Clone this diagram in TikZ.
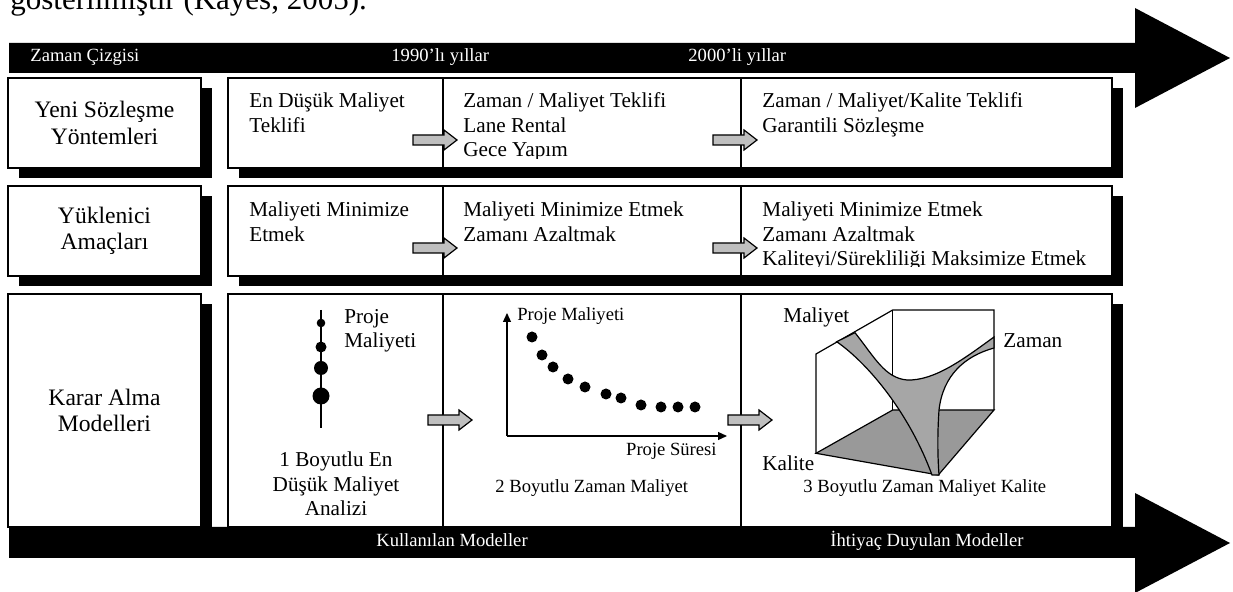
\documentclass[tikz,border=0pt]{standalone}
\usepackage{fontspec}
\setmainfont{Liberation Serif}
\usetikzlibrary{shadows}
\usetikzlibrary{positioning}
\usetikzlibrary{arrows.meta}

\tikzset{
  blackshadow/.style={drop shadow={shadow xshift=5.5pt,shadow yshift=-5pt,opacity=1,fill=black}},
  hdrbox/.style={draw,fill=white,line width=0.7pt,minimum width=96.5pt,inner sep=0pt,align=center,
                 font=\fontsize{11.8}{13.2}\selectfont,blackshadow},
  rowbox/.style={draw,fill=white,line width=0.7pt,minimum width=442pt,inner sep=0pt,blackshadow},
  cellbox/.style={draw,line width=0.7pt,inner sep=0pt,outer sep=0pt},
  celltext/.style={anchor=base west,align=left,inner sep=0pt,font=\fontsize{10.6}{12.25}\selectfont},
  smalltext/.style={inner sep=0pt,font=\fontsize{9.3}{11}\selectfont},
  bartext/.style={smalltext,text=white},
  grayarr/.style={draw,fill=gray!50,line width=0.6pt},
  costdot/.style={circle,fill=black,inner sep=0pt,minimum size=5.5pt},
}

\begin{document}
\begin{tikzpicture}[x=0.5pt,y=-0.5pt]
\useasboundingbox (0,0) rectangle (1233,592);

% line of text above the figure
\node [anchor=base west,inner sep=0pt,font=\fontsize{15.5}{18}\selectfont] (intro) at (10,10) {gösterilmiştir (Kayes, 2005).};

% time line
\fill (9,43) -- (1135,43) -- (1135,8) -- (1230,58) -- (1135,108) -- (1135,73) -- (9,73) -- cycle;
\node [bartext,anchor=base west] (zc) at (30,62) {Zaman Çizgisi};
\node [bartext,anchor=base west] (y90) at (391,62) {1990’lı yıllar};
\node [bartext,anchor=base west] (y00) at (688,62) {2000’li yıllar};

% row headers
\node [hdrbox,minimum height=45pt] (yeni) at (104.5,123) {Yeni Sözleşme\\Yöntemleri};
\node [hdrbox,minimum height=45pt] (yuk) at (104.5,231) {Yüklenici\\Amaçları};
\node [hdrbox,minimum height=116.5pt] (karar) at (104.5,410.5) {Karar Alma\\Modelleri};

% row 1
\node [rowbox,minimum height=45pt] (r1) at (670,123) {};
\node [cellbox,minimum width=107.5pt,minimum height=45pt] (c11) at (335.5,123) {};
\node [cellbox,minimum width=149pt,minimum height=45pt,right=0pt of c11] (c12) {};
\node [cellbox,minimum width=185.5pt,minimum height=45pt,right=0pt of c12] (c13) {};
\begin{scope}
  \clip (228,78) rectangle (1112,159);
  \node [celltext] (t11) at (249,132.5) {En Düşük Maliyet\\Teklifi};
  \node [celltext] (t12) at (463,157) {Zaman / Maliyet Teklifi\\Lane Rental\\Gece Yapım};
  \node [celltext] (t13) at (762,132.5) {Zaman / Maliyet/Kalite Teklifi\\Garantili Sözleşme};
\end{scope}

% row 2
\node [rowbox,minimum height=45pt] (r2) at (670,231) {};
\node [cellbox,minimum width=107.5pt,minimum height=45pt] (c21) at (335.5,231) {};
\node [cellbox,minimum width=149pt,minimum height=45pt,right=0pt of c21] (c22) {};
\node [cellbox,minimum width=185.5pt,minimum height=45pt,right=0pt of c22] (c23) {};
\begin{scope}
  \clip (228,186) rectangle (1112,267);
  \node [celltext] (t21) at (249,241.5) {Maliyeti Minimize\\Etmek};
  \node [celltext] (t22) at (463,241.5) {Maliyeti Minimize Etmek\\Zamanı Azaltmak};
  \node [celltext] (t23) at (762,266) {Maliyeti Minimize Etmek\\Zamanı Azaltmak\\Kaliteyi/Sürekliliği Maksimize Etmek};
\end{scope}

% row 3
\node [rowbox,minimum height=116.5pt] (r3) at (670,410.5) {};
\node [cellbox,minimum width=107.5pt,minimum height=116.5pt] (c31) at (335.5,410.5) {};
\node [cellbox,minimum width=149pt,minimum height=116.5pt,right=0pt of c31] (c32) {};
\node [cellbox,minimum width=185.5pt,minimum height=116.5pt,right=0pt of c32] (c33) {};

% gray arrows
\draw [grayarr] (413,135) -- (444,135) -- (444,130) -- (457,140) -- (444,150) -- (444,145) -- (413,145) -- cycle;
\draw [grayarr] (713,135) -- (744,135) -- (744,130) -- (757,140) -- (744,150) -- (744,145) -- (713,145) -- cycle;
\draw [grayarr] (413,243) -- (444,243) -- (444,238) -- (457,248) -- (444,258) -- (444,253) -- (413,253) -- cycle;
\draw [grayarr] (713,243) -- (744,243) -- (744,238) -- (757,248) -- (744,258) -- (744,253) -- (713,253) -- cycle;
\draw [grayarr] (428,415) -- (459,415) -- (459,410) -- (472,420) -- (459,430) -- (459,425) -- (428,425) -- cycle;
\draw [grayarr] (728,415) -- (759,415) -- (759,410) -- (772,420) -- (759,430) -- (759,425) -- (728,425) -- cycle;

% 1D model
\coordinate (m0) at (321,310);
\coordinate (m5) at (321,428);
\draw [line width=0.8pt] (m0) -- (m5);
\node [costdot,minimum size=4.3pt] (m1) at (321,323) {};
\node [costdot,minimum size=5.5pt] (m2) at (321,347) {};
\node [costdot,minimum size=7pt] (m3) at (321,368) {};
\node [costdot,minimum size=8.5pt] (m4) at (321,396) {};
\node [celltext] (pm1) at (344,348) {Proje\\Maliyeti};
\node [celltext,anchor=base,align=center] (cap1) at (336,516) {1 Boyutlu En\\Düşük Maliyet\\Analizi};

% 2D model
\coordinate (o) at (507,436);
\coordinate (ytop) at (507,313);
\coordinate (xend) at (727,436);
\draw [line width=0.6pt,-{Triangle[length=4.5pt,width=4pt]}] (o) -- (ytop);
\draw [line width=0.6pt,-{Triangle[length=4.5pt,width=4pt]}] (o) -- (xend);
\node [smalltext,anchor=base west] (pm2) at (517,321) {Proje Maliyeti};
\node [smalltext,anchor=base east] (ps) at (717,456) {Proje Süresi};
\node [costdot] (p1) at (532,337) {};
\node [costdot] (p2) at (542,355) {};
\node [costdot] (p3) at (553,367) {};
\node [costdot] (p4) at (568,379) {};
\node [costdot] (p5) at (585,387) {};
\node [costdot] (p6) at (606,394) {};
\node [costdot] (p7) at (621,398) {};
\node [costdot] (p8) at (641,405) {};
\node [costdot] (p9) at (661,407) {};
\node [costdot] (p10) at (678,407) {};
\node [costdot] (p11) at (695,407) {};
\node [smalltext,anchor=base west] (cap2) at (495,493) {2 Boyutlu Zaman Maliyet};

% 3D model
\coordinate (ftl) at (816,354);
\coordinate (btl) at (892.7,310);
\coordinate (btr) at (994,310);
\coordinate (bbr) at (994,410);
\coordinate (bbl) at (892.7,410);
\coordinate (fbl) at (816,453.3);
\coordinate (fbr) at (938.3,475);
\draw [line width=0.6pt,fill=gray!80] (fbl) -- (bbl) -- (bbr) -- (fbr) -- cycle;
\draw [line width=0.6pt] (fbl) -- (ftl) -- (btl) -- (btr) -- (bbr);
\draw [line width=0.6pt] (btl) -- (bbl);
\draw [line width=0.6pt,fill=gray!70]
  (836.7,341.7) -- (855,332.7)
  .. controls (875,358) and (885,378) .. (907,380)
  .. controls (935,381) and (965,358) .. (994,337)
  -- (994,348)
  .. controls (965,356) and (943,375) .. (939,410)
  .. controls (937,440) and (938,460) .. (939,475)
  -- (932,475)
  .. controls (910,415) and (870,365) .. (836.7,341.7) -- cycle;
\node [celltext] (lm) at (783,323) {Maliyet};
\node [celltext] (lz) at (1003,348) {Zaman};
\node [celltext] (lk) at (762,471) {Kalite};
\node [smalltext,anchor=base west] (cap3) at (803,493) {3 Boyutlu Zaman Maliyet Kalite};

% models line
\fill (9,527) -- (1135,527) -- (1135,493) -- (1230,543) -- (1135,593) -- (1135,558) -- (9,558) -- cycle;
\node [bartext,anchor=base] (kul) at (452,547) {Kullanılan Modeller};
\node [bartext,anchor=base] (iht) at (927,547) {İhtiyaç Duyulan Modeller};
\end{tikzpicture}
\end{document}
